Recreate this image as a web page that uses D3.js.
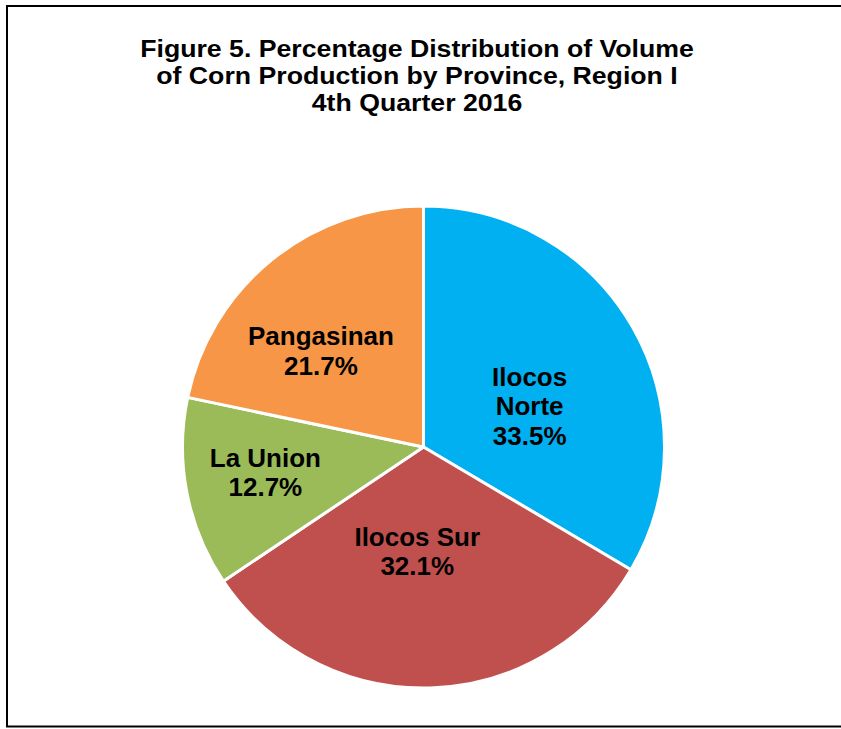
<!DOCTYPE html>
<html>
<head>
<meta charset="utf-8">
<script src="https://cdn.jsdelivr.net/npm/d3@7"></script>
<style>
  html, body { margin: 0; padding: 0; background: #fff; overflow: hidden; }
  svg { display: block; }
</style>
</head>
<body>
<div id="chart"></div>
<script>
(function() {
    'use strict';

    // data
    const provinces = ['Ilocos Norte', 'Ilocos Sur', 'La Union', 'Pangasinan'];
    const shares = [33.5, 32.1, 12.7, 21.7];
    const sliceColors = ['#00B0F0', '#C0504D', '#9BBB59', '#F79646'];
    const titleLines = [
        'Figure 5. Percentage Distribution of Volume',
        'of Corn Production by Province, Region I',
        '4th Quarter 2016'
    ];

    const width = 841, height = 729;
    const cx = 423.5, cy = 447, radius = 241;

    // Excel "best fit" moves labels a bit off the slice bisector
    const labelNudge = [[-9, 25], [-10, -28], [-28, 0], [-19, 7]];

    const svg = d3.select('#chart').append('svg')
        .attr('width', width)
        .attr('height', height);

    // frame (right edge falls outside the picture)
    svg.append('rect')
        .attr('x', 7).attr('y', 6)
        .attr('width', 860).attr('height', 720.5)
        .attr('fill', 'none')
        .attr('stroke', '#000')
        .attr('stroke-width', 2);

    // title — the original is a bit wider than plain Arial, so stretch it
    svg.append('g')
        .attr('transform', 'translate(417,0) scale(1.16,1)')
        .append('text')
        .attr('x', 0)
        .attr('y', 57)
        .attr('text-anchor', 'middle')
        .style('font', 'bold 23px "Liberation Sans", Arial, sans-serif')
        .style('fill', '#000')
        .selectAll('tspan')
        .data(titleLines)
        .enter()
        .append('tspan')
        .attr('x', 0)
        .attr('dy', (d, i) => i === 0 ? 0 : 27)
        .text(d => d);

    const data = provinces.map((p, i) => ({ name: p, value: shares[i], color: sliceColors[i], idx: i }));

    const pie = d3.pie().value(d => d.value).sort(null);
    const arc = d3.arc().innerRadius(0).outerRadius(radius);
    const labelArc = d3.arc().innerRadius(radius * 0.55).outerRadius(radius * 0.55);

    const g = svg.append('g').attr('transform', `translate(${cx},${cy})`);

    const arcs = g.selectAll('.arc')
        .data(pie(data))
        .enter()
        .append('g')
        .attr('class', 'arc');

    arcs.append('path')
        .attr('d', arc)
        .attr('fill', d => d.data.color)
        .attr('stroke', '#fff')
        .attr('stroke-width', 3)
        .attr('stroke-linejoin', 'round');

    const labelLines = d => {
        const n = d.data.name;
        const lines = n === 'Ilocos Norte' ? ['Ilocos', 'Norte'] : [n];
        return lines.concat([d.data.value.toFixed(1) + '%']);
    };

    arcs.append('text')
        .attr('transform', d => {
            const [x, y] = labelArc.centroid(d);
            const nudge = labelNudge[d.data.idx];
            return `translate(${x + nudge[0]},${y + nudge[1]})`;
        })
        .attr('text-anchor', 'middle')
        .style('font', 'bold 26px "Liberation Sans", Arial, sans-serif')
        .style('fill', '#000')
        .each(function(d) {
            const lines = labelLines(d);
            const lh = 29.5;
            const t = d3.select(this);
            lines.forEach((s, i) => {
                t.append('tspan')
                    .attr('x', 0)
                    .attr('y', (i - (lines.length - 1) / 2) * lh)
                    .attr('dy', '0.35em')
                    .text(s);
            });
        });
})();
</script>
</body>
</html>
